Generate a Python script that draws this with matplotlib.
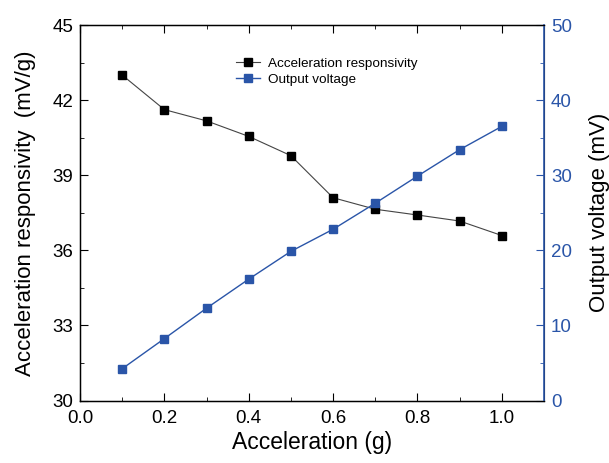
import matplotlib
matplotlib.use("Agg")
import matplotlib.pyplot as plt
from matplotlib.ticker import MultipleLocator

plt.rcParams['font.family'] = ['Liberation Sans', 'DejaVu Sans']

accel = [0.1, 0.2, 0.3, 0.4, 0.5, 0.6, 0.7, 0.8, 0.9, 1.0]
responsivity = [43.0, 41.62, 41.17, 40.55, 39.78, 38.10, 37.64, 37.41, 37.17, 36.59]
voltage = [4.23, 8.24, 12.29, 16.16, 19.86, 22.8, 26.27, 29.88, 33.4, 36.5]

blue = '#2a55a8'

fig = plt.figure(figsize=(6.09, 4.63), dpi=100)
ax = fig.add_axes([80/609, 1 - 400.5/463, (544-80)/609, (400.5-25)/463])
ax2 = ax.twinx()

l1, = ax.plot(accel, responsivity, '-s', color='#444444', lw=0.8,
              mfc='black', mec='black', ms=6, label='Acceleration responsivity')
l2, = ax2.plot(accel, voltage, '-s', color=blue, lw=1.0,
               mfc=blue, mec=blue, ms=6, label='Output voltage')

ax.set_xlim(0, 1.1)
ax.set_ylim(30, 45)
ax2.set_ylim(0, 50)

ax.xaxis.set_major_locator(MultipleLocator(0.2))
ax.xaxis.set_minor_locator(MultipleLocator(0.1))
ax.yaxis.set_major_locator(MultipleLocator(3))
ax.yaxis.set_minor_locator(MultipleLocator(1.5))
ax2.yaxis.set_major_locator(MultipleLocator(10))
ax2.yaxis.set_minor_locator(MultipleLocator(5))

ax.tick_params(which='both', direction='in', top=True, labelsize=13.5)
ax.tick_params(which='major', length=6)
ax.tick_params(which='minor', length=3)
ax.tick_params(axis='x', which='both', pad=7)
ax.tick_params(axis='y', which='both', pad=5)
ax2.tick_params(which='both', direction='in', colors=blue, labelsize=13.5, pad=5)
ax2.tick_params(which='major', length=6)
ax2.tick_params(which='minor', length=3)
ax2.spines['right'].set_color(blue)
ax2.spines['right'].set_linewidth(1.2)
for s in ['left', 'top', 'bottom']:
    ax.spines[s].set_linewidth(1.0)

ax.set_xlabel('Acceleration (g)', fontsize=16.5, labelpad=3)
ax.set_ylabel('Acceleration responsivity  (mV/g)', fontsize=16, labelpad=12)
ax2.set_ylabel('Output voltage (mV)', fontsize=16, color='black', labelpad=12)

ax.legend([l1, l2], ['Acceleration responsivity', 'Output voltage'],
          loc='upper left', bbox_to_anchor=(0.31, 0.945), frameon=False,
          fontsize=9.7, handlelength=1.8, handletextpad=0.6, labelspacing=0.25)

fig.savefig('out.png', dpi=100)
